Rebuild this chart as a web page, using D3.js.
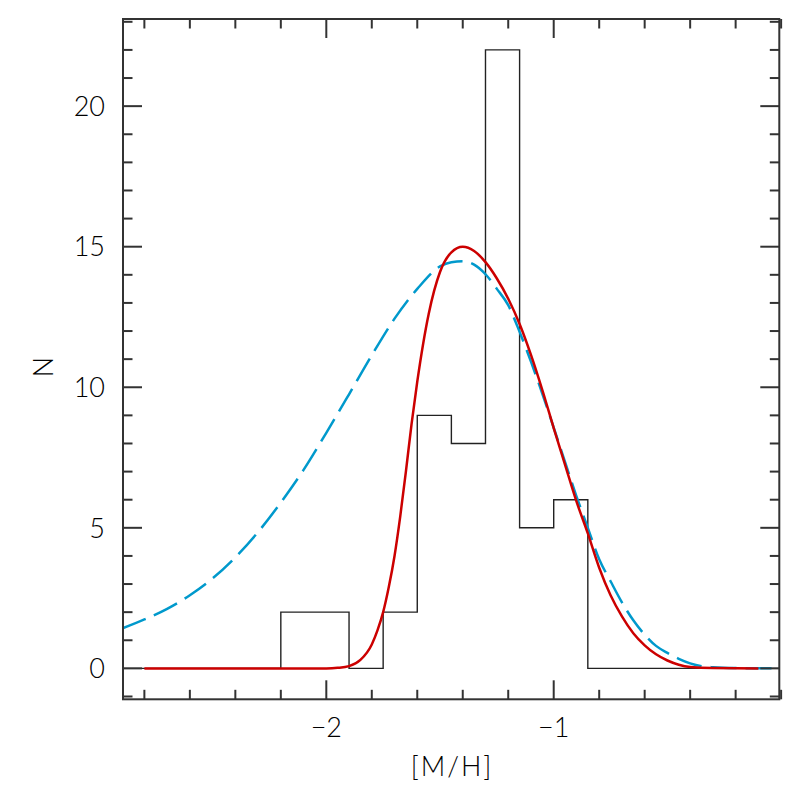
<!DOCTYPE html>
<html>
<head>
<meta charset="utf-8">
<script src="https://cdn.jsdelivr.net/npm/d3@7"></script>
<style>
  html, body { margin: 0; padding: 0; background: #fff; }
  svg text { font-family: Lato, "Liberation Sans", sans-serif; font-weight: 300; fill: #000; }
</style>
</head>
<body>
<svg id="chart" width="797" height="797"></svg>
<script>
// histogram: bin edges and counts
const binEdges = [-2.2, -2.05, -1.9, -1.75, -1.6, -1.45, -1.3, -1.15, -1.0, -0.85];
const binCounts = [2, 2, 0, 2, 9, 8, 22, 5, 6];

// red solid model curve
const redX = [-2.8, -2.0, -1.95, -1.9, -1.85, -1.8, -1.775, -1.75, -1.725, -1.7, -1.675, -1.65, -1.625,
  -1.6, -1.55, -1.5, -1.45, -1.4, -1.35, -1.3, -1.25, -1.2, -1.15, -1.1, -1.05, -1.0, -0.95, -0.9,
  -0.85, -0.8, -0.75, -0.7, -0.65, -0.6, -0.55, -0.5, -0.45, -0.4, -0.3, -0.1];
const redY = [0, 0, 0.02, 0.08, 0.3, 0.85, 1.35, 2.0, 2.9, 4.0, 5.4, 7.0, 8.7,
  10.2, 12.6, 14.1, 14.8, 15.0, 14.85, 14.45, 13.87, 13.15, 12.25, 11.15, 9.9, 8.55, 7.24, 5.94,
  4.8, 3.58, 2.6, 1.85, 1.25, 0.82, 0.5, 0.28, 0.13, 0.05, 0.01, 0];

// blue dashed model curve
const blueX = [-2.9, -2.8, -2.7, -2.6, -2.5, -2.4, -2.3, -2.2, -2.1, -2.0, -1.9, -1.8, -1.7, -1.6,
  -1.5, -1.45, -1.4, -1.35, -1.3, -1.25, -1.2, -1.15, -1.1, -1.05, -1.0, -0.95, -0.9, -0.85,
  -0.8, -0.75, -0.7, -0.65, -0.6, -0.55, -0.5, -0.45, -0.4, -0.35, -0.3, -0.2, 0];
const blueY = [1.41, 1.74, 2.12, 2.6, 3.2, 3.95, 4.85, 5.9, 7.06, 8.38, 9.75, 11.14, 12.44, 13.5,
  14.3, 14.45, 14.48, 14.36, 14.02, 13.5, 12.92, 11.97, 10.91, 9.77, 8.56, 7.34, 6.12, 5.0,
  3.88, 3.1, 2.35, 1.71, 1.2, 0.8, 0.55, 0.34, 0.18, 0.08, 0.04, 0.01, 0];

const xTicksMajor = [-2, -1];
const yTicksMajor = [0, 5, 10, 15, 20];

const svg = d3.select("#chart");
const plot = { left: 123, right: 779.3, top: 19, bottom: 699.3 };

const x = d3.scaleLinear().domain([-2.894, -0.008]).range([plot.left, plot.right]);
const y = d3.scaleLinear().domain([-1.1, 23.1]).range([plot.bottom, plot.top]);

svg.append("defs").append("clipPath").attr("id", "clip")
  .append("rect")
  .attr("x", plot.left).attr("y", plot.top)
  .attr("width", plot.right - plot.left).attr("height", plot.bottom - plot.top);

const g = svg.append("g").attr("clip-path", "url(#clip)");

// histogram outline
const [xmin, xmax] = x.domain();
const histPts = [[xmin, 0]]
  .concat(binCounts.map((c, i) => [binEdges[i], c]))
  .concat([[binEdges[binEdges.length - 1], 0], [xmax, 0]]);

g.append("path")
  .datum(histPts)
  .attr("fill", "none")
  .attr("stroke", "#222")
  .attr("stroke-width", 1.4)
  .attr("d", d3.line().x((d) => x(d[0])).y((d) => y(d[1])).curve(d3.curveStepAfter));

const smooth = d3.line().x((d) => x(d[0])).y((d) => y(d[1])).curve(d3.curveMonotoneX);

g.append("path")
  .datum(blueX.map((v, i) => [v, blueY[i]]))
  .attr("fill", "none")
  .attr("stroke", "#0099cc")
  .attr("stroke-width", 2.5)
  .attr("stroke-dasharray", "26,9")
  .attr("d", smooth);

g.append("path")
  .datum(redX.map((v, i) => [v, redY[i]]))
  .attr("fill", "none")
  .attr("stroke", "#cc0000")
  .attr("stroke-width", 2.5)
  .attr("d", smooth);

// frame
svg.append("rect")
  .attr("x", plot.left).attr("y", plot.top)
  .attr("width", plot.right - plot.left).attr("height", plot.bottom - plot.top)
  .attr("fill", "none").attr("stroke", "#333").attr("stroke-width", 2);

// ticks on all four sides, pointing inward
const ticks = svg.append("g").attr("stroke", "#333").attr("stroke-width", 2);
const xMinor = d3.range(-2.8, 0.001, 0.2).map((v) => +v.toFixed(2));
xMinor.forEach((v) => {
  const isMajor = xTicksMajor.some((m) => Math.abs(m - v) < 1e-6);
  const len = isMajor ? 19 : 9.5;
  ticks.append("line").attr("x1", x(v)).attr("x2", x(v)).attr("y1", plot.bottom).attr("y2", plot.bottom - len);
  ticks.append("line").attr("x1", x(v)).attr("x2", x(v)).attr("y1", plot.top).attr("y2", plot.top + len);
});
d3.range(-1, 24, 1).forEach((v) => {
  const isMajor = yTicksMajor.includes(v);
  const len = isMajor ? 19 : 9.5;
  ticks.append("line").attr("x1", plot.left).attr("x2", plot.left + len).attr("y1", y(v)).attr("y2", y(v));
  ticks.append("line").attr("x1", plot.right).attr("x2", plot.right - len).attr("y1", y(v)).attr("y2", y(v));
});

// tick labels
svg.append("g").selectAll("text")
  .data(yTicksMajor)
  .join("text")
  .attr("x", 105)
  .attr("y", (d) => y(d))
  .attr("dy", "0.36em")
  .attr("text-anchor", "end")
  .attr("font-size", 27)
  .text((d) => d);

svg.append("g").selectAll("text")
  .data(xTicksMajor)
  .join("text")
  .attr("x", (d) => x(d))
  .attr("y", 737)
  .attr("text-anchor", "middle")
  .attr("font-size", 27)
  .text((d) => "\u2212" + Math.abs(d));

// axis titles
svg.append("text")
  .attr("x", 452)
  .attr("y", 776)
  .attr("text-anchor", "middle")
  .attr("font-size", 27)
  .attr("letter-spacing", 2)
  .text("[M/H]");

svg.append("text")
  .attr("transform", "translate(53,367) rotate(-90)")
  .attr("text-anchor", "middle")
  .attr("font-size", 27)
  .text("N");
</script>
</body>
</html>
